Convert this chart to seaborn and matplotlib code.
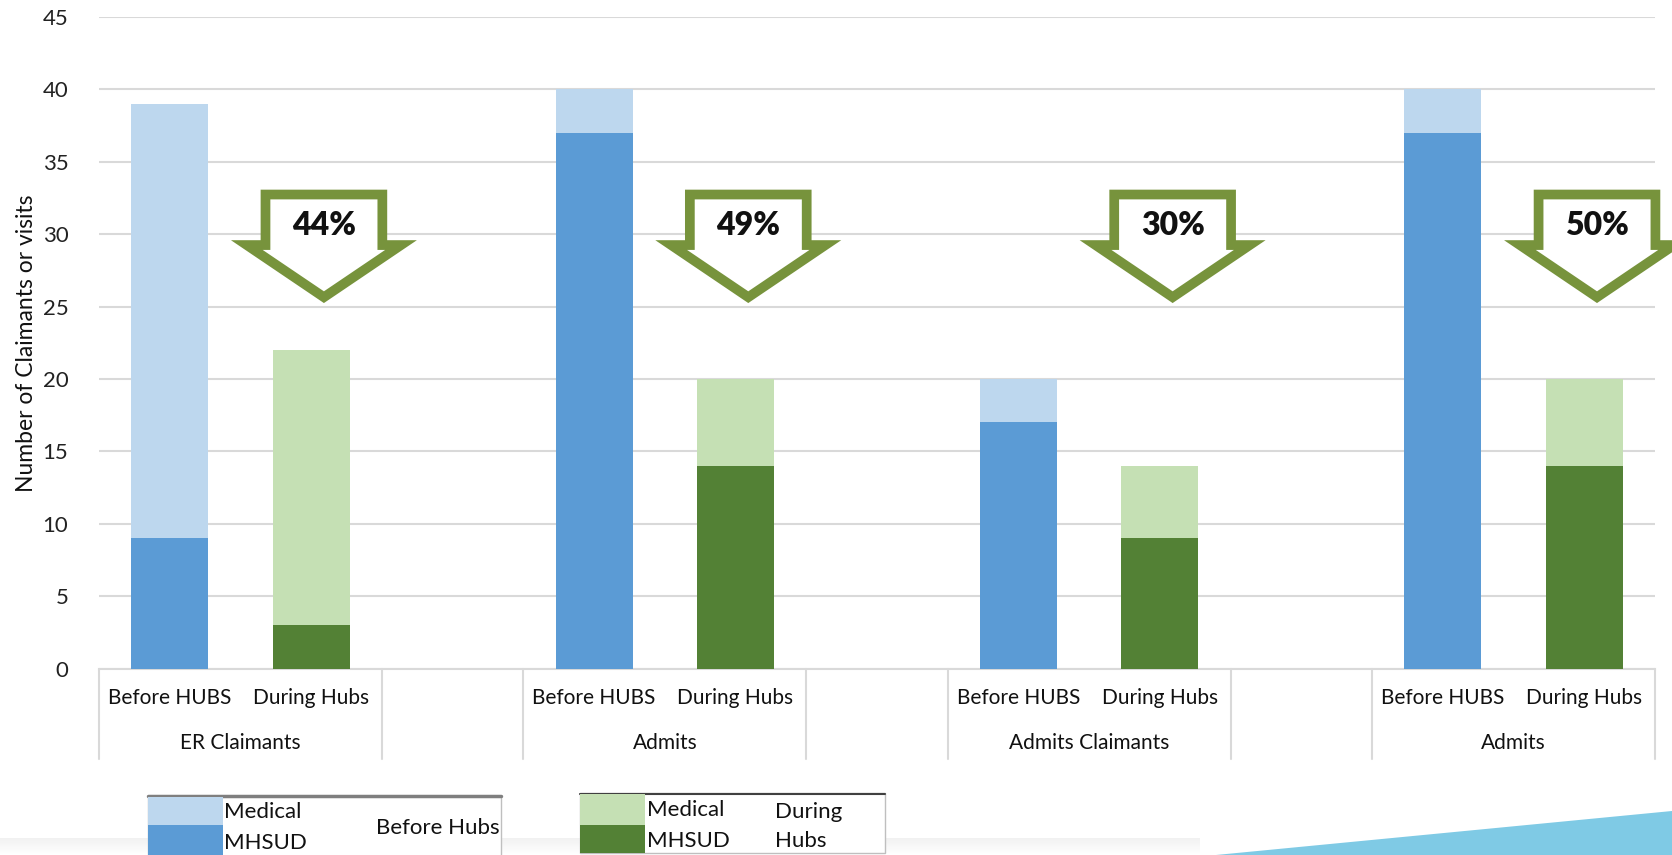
import matplotlib
matplotlib.use("Agg")
import matplotlib.pyplot as plt
import seaborn as sns
import pandas as pd
import numpy as np
from matplotlib.patches import Polygon, Rectangle
from matplotlib.transforms import blended_transform_factory

# ---------------- data ----------------
groups = ["ER Claimants", "Admits", "Admits Claimants", "Admits"]
phases = ["Before HUBS", "During Hubs"]
mhsud_before = [9, 37, 17, 37]
medical_before = [30, 3, 3, 3]
mhsud_during = [3, 14, 9, 14]
medical_during = [19, 6, 5, 6]
reductions = ["44%", "49%", "30%", "50%"]
yticks = [0, 5, 10, 15, 20, 25, 30, 35, 40, 45]

c_med_b = "#BDD7EE"
c_mh_b = "#5B9BD5"
c_med_d = "#C5E0B4"
c_mh_d = "#538135"
c_arrow = "#77933C"
c_grid = "#D9D9D9"

rows = []
for g in range(len(groups)):
    rows.append(dict(slot=3 * g, phase="Before", mhsud=mhsud_before[g],
                     total=mhsud_before[g] + medical_before[g]))
    rows.append(dict(slot=3 * g + 1, phase="During", mhsud=mhsud_during[g],
                     total=mhsud_during[g] + medical_during[g]))
df = pd.DataFrame(rows)

sns.set_theme(style="white")
plt.rcParams["font.family"] = ["Lato", "DejaVu Sans"]

W, H = 1672, 855
fig = plt.figure(figsize=(W / 100, H / 100), dpi=100)
ax = fig.add_axes([99 / W, 1 - 668.6 / H, (1655 - 99) / W, (668.6 - 17) / H])

sns.barplot(data=df, x="slot", y="total", hue="phase",
            palette={"Before": c_med_b, "During": c_med_d}, saturation=1,
            native_scale=True, width=0.545, dodge=False, legend=False,
            linewidth=0, ax=ax, zorder=2)
sns.barplot(data=df, x="slot", y="mhsud", hue="phase",
            palette={"Before": c_mh_b, "During": c_mh_d}, saturation=1,
            native_scale=True, width=0.545, dodge=False, legend=False,
            linewidth=0, ax=ax, zorder=3)

ax.set_xlim(-0.5, 10.5)
ax.set_ylim(0, 45)
ax.set_yticks(yticks)
ax.set_yticklabels([str(v) for v in yticks], fontsize=16, color="#222222")
ax.tick_params(axis="y", length=0, pad=22)
ax.set_xticks([])
ax.set_xlabel("")
ax.set_ylabel("Number of Claimants or visits", fontsize=16.5, color="#111111", labelpad=4)
ax.yaxis.grid(True, color=c_grid, linewidth=1.5, zorder=0)
ax.set_axisbelow(True)
for s in ["left", "right", "top"]:
    ax.spines[s].set_visible(False)
ax.spines["bottom"].set_color(c_grid)
ax.spines["bottom"].set_linewidth(1.5)

# multi-level category axis
trans = blended_transform_factory(ax.transData, ax.transAxes)
ax_h = 668.6 - 17
for xs in [-0.5, 1.5, 2.5, 4.5, 5.5, 7.5, 8.5, 10.5]:
    ax.plot([xs, xs], [0, -(759 - 668.6) / ax_h], transform=trans,
            color=c_grid, linewidth=1.5, clip_on=False)
for g, name in enumerate(groups):
    for k, ph in enumerate(phases):
        ax.text(3 * g + k, -(698 - 668.6) / ax_h, ph, transform=trans,
                ha="center", va="center", fontsize=15, color="#111111")
    ax.text(3 * g + 0.5, -(743 - 668.6) / ax_h, name, transform=trans,
            ha="center", va="center", fontsize=15, color="#111111")

# reduction arrows
for g, lab in enumerate(reductions):
    cx = 3 * g + 1.09
    sw, hw = 0.413, 0.545
    top, sh, tip = 32.74, 29.25, 25.65
    pts = [(cx - sw, top), (cx + sw, top), (cx + sw, sh), (cx + hw, sh),
           (cx, tip), (cx - hw, sh), (cx - sw, sh)]
    ax.add_patch(Polygon(pts, closed=True, facecolor="white", edgecolor=c_arrow,
                         linewidth=7, joinstyle="miter", zorder=5, clip_on=False))
    ax.text(cx, 30.6, lab, ha="center", va="center", fontsize=23,
            fontweight="heavy", color="#111111", zorder=6, clip_on=False)

# overlay in pixel coordinates for legend boxes and decoration
ov = fig.add_axes([0, 0, 1, 1], zorder=10)
ov.set_xlim(0, W)
ov.set_ylim(H, 0)
ov.axis("off")
ov.patch.set_alpha(0)

# faint bottom shadow
grad = np.linspace(0, 1, 20).reshape(-1, 1)
ov.imshow(np.dstack([np.full((20, 1, 3), 0.85), grad[:, :, None] * 0.35]),
          extent=[0, 1200, 838, 855], aspect="auto", zorder=1, interpolation="bilinear")

# blue triangle
ov.add_patch(Polygon([(1216, 855), (W, 811), (W, 855)], closed=True,
                     facecolor="#7FCAE5", edgecolor="none", zorder=2))

# legend box 1
ov.add_patch(Rectangle((148, 796), 353, 62, facecolor="white", edgecolor="#BFBFBF",
                       linewidth=1, zorder=3))
ov.plot([148, 501], [796, 796], color="#7F7F7F", linewidth=2.5, zorder=4)
ov.add_patch(Rectangle((148, 797), 75, 28, facecolor=c_med_b, edgecolor="none", zorder=4))
ov.add_patch(Rectangle((148, 825), 75, 31, facecolor=c_mh_b, edgecolor="none", zorder=4))
ov.text(224, 812, "Medical", fontsize=16, va="center", ha="left", color="#111111", zorder=5)
ov.text(224, 843, "MHSUD", fontsize=16, va="center", ha="left", color="#111111", zorder=5)
ov.text(376, 828, "Before Hubs", fontsize=16, va="center", ha="left", color="#111111", zorder=5)

# legend box 2
ov.add_patch(Rectangle((580, 793), 305, 60, facecolor="white", edgecolor="#BFBFBF",
                       linewidth=1, zorder=3))
ov.plot([580, 885], [793.5, 793.5], color="#404040", linewidth=1.5, zorder=4)
ov.add_patch(Rectangle((580, 794), 65, 31, facecolor=c_med_d, edgecolor="none", zorder=4))
ov.add_patch(Rectangle((580, 825), 65, 28, facecolor=c_mh_d, edgecolor="none", zorder=4))
ov.text(647, 810, "Medical", fontsize=16, va="center", ha="left", color="#111111", zorder=5)
ov.text(647, 841, "MHSUD", fontsize=16, va="center", ha="left", color="#111111", zorder=5)
ov.text(775, 812, "During", fontsize=16, va="center", ha="left", color="#111111", zorder=5)
ov.text(775, 841, "Hubs", fontsize=16, va="center", ha="left", color="#111111", zorder=5)

fig.savefig("out.png", dpi=100)
